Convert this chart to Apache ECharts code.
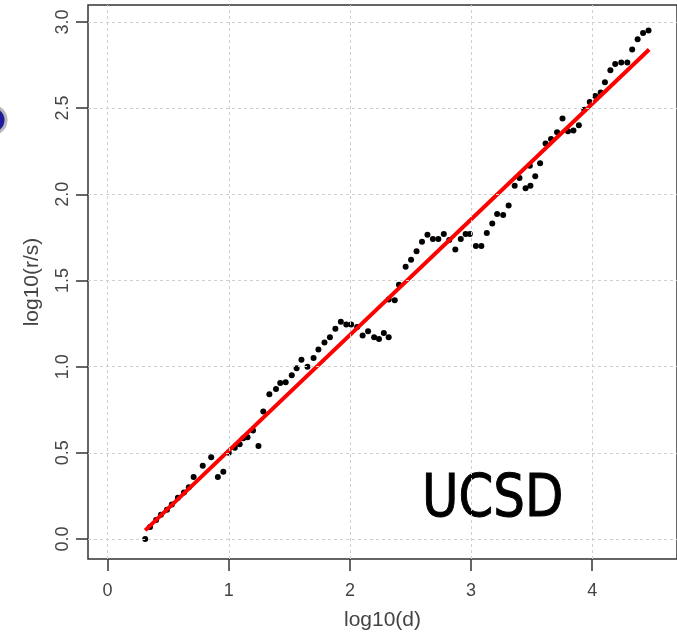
<!DOCTYPE html>
<html>
<head>
<meta charset="utf-8">
<script src="https://cdn.jsdelivr.net/npm/echarts@6/dist/echarts.min.js"></script>
<style>
  html, body { margin: 0; padding: 0; background: #fff; }
  #main { width: 677px; height: 636px; }
</style>
</head>
<body>
<div id="main"></div>
<script>
// data
var logD = [0.31, 0.35, 0.40, 0.44, 0.49, 0.53, 0.58, 0.63, 0.67, 0.71, 0.785, 0.855, 0.91, 0.955,
  1.00, 1.05, 1.09, 1.12, 1.155, 1.20, 1.245, 1.285, 1.335, 1.39, 1.425, 1.47, 1.52, 1.56, 1.60, 1.65,
  1.70, 1.74, 1.79, 1.835, 1.88, 1.925, 1.97, 2.01, 2.06, 2.105, 2.15, 2.20, 2.24, 2.28, 2.32, 2.32,
  2.37, 2.405, 2.46, 2.505, 2.55, 2.595, 2.64, 2.685, 2.73, 2.775, 2.82, 2.87, 2.915, 2.955, 2.99,
  3.04, 3.085, 3.13, 3.175, 3.215, 3.265, 3.31, 3.36, 3.40, 3.45, 3.485, 3.49, 3.53, 3.57, 3.615, 3.66,
  3.71, 3.755, 3.80, 3.845, 3.89, 3.935, 3.98, 4.025, 4.07, 4.105, 4.15, 4.19, 4.24, 4.29, 4.33,
  4.375, 4.42, 4.465];
var logRS = [0.00, 0.07, 0.11, 0.14, 0.17, 0.20, 0.24, 0.27, 0.30, 0.36, 0.425, 0.475, 0.36, 0.39,
  0.50, 0.53, 0.55, 0.585, 0.59, 0.63, 0.54, 0.74, 0.84, 0.87, 0.905, 0.91, 0.95, 0.99, 1.04, 1.00,
  1.05, 1.10, 1.14, 1.17, 1.22, 1.26, 1.245, 1.245, 1.23, 1.18, 1.205, 1.17, 1.16, 1.195, 1.17, 1.39,
  1.385, 1.475, 1.58, 1.62, 1.67, 1.725, 1.765, 1.74, 1.74, 1.77, 1.735, 1.68, 1.74, 1.77, 1.77,
  1.70, 1.70, 1.775, 1.83, 1.885, 1.88, 1.935, 2.05, 2.095, 2.035, 2.165, 2.05, 2.105, 2.18, 2.295, 2.32,
  2.36, 2.44, 2.365, 2.37, 2.40, 2.49, 2.535, 2.57, 2.59, 2.65, 2.72, 2.755, 2.765, 2.765, 2.84,
  2.90, 2.935, 2.95];
var fitX = [0.31, 4.47];
var fitY = [0.05, 2.84];
var xTicks = [0, 1, 2, 3, 4];
var yTicks = [0, 0.5, 1, 1.5, 2, 2.5, 3];

var pts = logD.map(function (d, i) { return [d, logRS[i]]; });
var fit = fitX.map(function (d, i) { return [d, fitY[i]]; });

var font = "'Liberation Sans', Arial, sans-serif";
var gridLines = xTicks.map(function (v) { return { xAxis: v }; })
  .concat(yTicks.map(function (v) { return { yAxis: v }; }));

var chart = echarts.init(document.getElementById('main'));
chart.setOption({
  animation: false,
  backgroundColor: '#fff',
  grid: {
    left: 88, top: 5, right: -11.5, bottom: 75,
    show: true, borderColor: '#333', borderWidth: 1.5, backgroundColor: 'transparent'
  },
  xAxis: {
    type: 'value', min: -0.162, max: 4.7,
    name: 'log10(d)', nameLocation: 'middle', nameGap: 51,
    nameTextStyle: { fontFamily: font, fontSize: 21, color: '#444' },
    axisLine: { show: false, onZero: false },
    splitLine: { show: false },
    axisTick: { show: true, customValues: xTicks, length: 12, lineStyle: { color: '#333', width: 1.5 } },
    axisLabel: { customValues: xTicks, margin: 23, fontFamily: font, fontSize: 18, color: '#444' }
  },
  yAxis: {
    type: 'value', min: -0.116, max: 3.098,
    name: 'log10(r/s)', nameLocation: 'middle', nameGap: 45, nameRotate: 90,
    nameTextStyle: { fontFamily: font, fontSize: 21, color: '#444' },
    axisLine: { show: false, onZero: false },
    splitLine: { show: false },
    axisTick: { show: true, customValues: yTicks, length: 12, lineStyle: { color: '#333', width: 1.5 } },
    axisLabel: {
      customValues: yTicks, rotate: 90, margin: 16, fontFamily: font, fontSize: 18, color: '#444',
      formatter: function (v) { return v.toFixed(1); }
    }
  },
  series: [
    {
      type: 'scatter',
      data: pts,
      symbol: 'circle',
      symbolSize: 6,
      itemStyle: { color: '#000', opacity: 1 },
      markLine: {
        silent: true,
        symbol: 'none',
        label: { show: false },
        lineStyle: { color: '#cfcfcf', type: [3, 3], width: 1 },
        data: gridLines
      },
      z: 2
    },
    {
      type: 'line',
      data: fit,
      symbol: 'none',
      lineStyle: { color: '#ff0000', width: 4 },
      z: 3
    }
  ],
  graphic: [
    {
      type: 'text', x: 422, y: 501, scaleX: 0.86, originX: 0,
      style: { text: 'UCSD', font: "normal 58px 'DejaVu Sans'", fill: '#000', stroke: '#000', lineWidth: 1, verticalAlign: 'middle' }
    },
    {
      type: 'circle', shape: { cx: -8, cy: 120, r: 14 },
      style: { fill: '#1c1c9c', stroke: '#b8b8b8', lineWidth: 3 }
    }
  ]
});
</script>
</body>
</html>
